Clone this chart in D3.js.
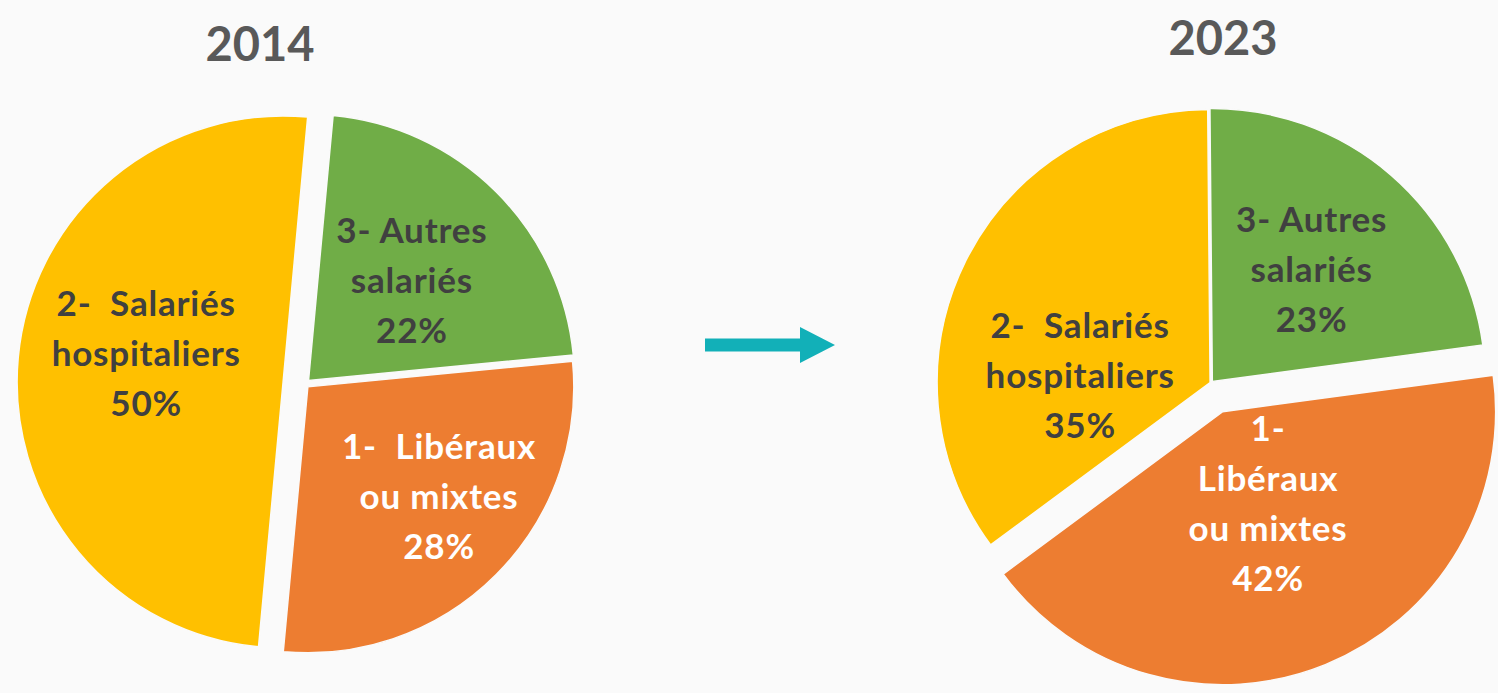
<!DOCTYPE html>
<html>
<head>
<meta charset="utf-8">
<script src="https://cdn.jsdelivr.net/npm/d3@7"></script>
<style>
  html, body { margin: 0; padding: 0; background: #fafafa; }
  svg { display: block; font-family: Lato, "Open Sans", sans-serif; }
</style>
</head>
<body>
<div id="chart"></div>
<script>
// data
const categories = ["1- Libéraux ou mixtes", "2- Salariés hospitaliers", "3- Autres salariés"];
const values2014 = [28, 50, 22];
const values2023 = [42, 35, 23];
const years = ["2014", "2023"];
const labels2014 = [["1-  Libéraux", "ou mixtes"], ["2-  Salariés", "hospitaliers"], ["3- Autres", "salariés"]];
const labels2023 = [["1-", "Libéraux", "ou mixtes"], ["2-  Salariés", "hospitaliers"], ["3- Autres", "salariés"]];

// clockwise from the top: Autres, Libéraux, Salariés
const drawOrder = [2, 0, 1];
const colors = ["#ED7D31", "#FFC000", "#70AD47"];
const textColors = ["#ffffff", "#404040", "#404040"];

const width = 1498;
const height = 693;
const deg = Math.PI / 180;

const svg = d3.select("#chart")
  .append("svg")
  .attr("width", width)
  .attr("height", height);

svg.append("rect")
  .attr("width", width)
  .attr("height", height)
  .attr("fill", "#fafafa");

// layout per pie: centre, radius, first slice angle, explosion (px), label placement [radius fraction, angle nudge]
const pies = [
  {
    year: years[0], values: values2014, labels: labels2014,
    cx: 305, cy: 384, r: 266, start: 5.3,
    titleX: 260, titleY: 61,
    explode: [4, 22, 5],
    labelPos: [[0.644, -4.9], [0.526, 6.5], [0.542, 0.9]]
  },
  {
    year: years[1], values: values2023, labels: labels2023,
    cx: 1211, cy: 383, r: 273, start: -0.5,
    titleX: 1223, titleY: 55,
    explode: [31, 1, 2],
    labelPos: [[0.375, -4.2], [0.477, -23.2], [0.549, 0.6]]
  }
];

const fontSize = 35;
const lineH = 50;
const cap = fontSize * 0.717;

function polar(a, d) {
  return [Math.sin(a) * d, -Math.cos(a) * d];
}

pies.forEach(p => {
  const items = drawOrder.map(i => ({ i, value: p.values[i] }));

  const pie = d3.pie()
    .sort(null)
    .value(d => d.value)
    .startAngle(p.start * deg)
    .endAngle(p.start * deg + 2 * Math.PI);

  const arc = d3.arc().innerRadius(0).outerRadius(p.r);
  const arcs = pie(items);

  const g = svg.append("g")
    .attr("transform", `translate(${p.cx},${p.cy})`);

  const slice = g.selectAll("g.slice")
    .data(arcs)
    .enter()
    .append("g")
    .attr("class", "slice")
    .attr("transform", d => {
      const mid = (d.startAngle + d.endAngle) / 2;
      const [dx, dy] = polar(mid, p.explode[d.data.i]);
      return `translate(${dx},${dy})`;
    });

  slice.append("path")
    .attr("d", arc)
    .attr("fill", d => colors[d.data.i])
    .attr("stroke", "#fafafa")
    .attr("stroke-width", 1.5);

  slice.each(function(d) {
    const mid = (d.startAngle + d.endAngle) / 2;
    const [rf, nudge] = p.labelPos[d.data.i];
    const [lx, ly] = polar(mid + nudge * deg, rf * p.r);
    const lines = p.labels[d.data.i].concat([d.data.value + "%"]);
    const firstBase = ly - lineH * (lines.length - 1) / 2 + cap / 2;

    const text = d3.select(this).append("text")
      .attr("text-anchor", "middle")
      .attr("font-size", fontSize)
      .attr("font-weight", 700)
      .attr("letter-spacing", 0.8)
      .attr("fill", textColors[d.data.i])
      .style("white-space", "pre");

    text.selectAll("tspan")
      .data(lines)
      .enter()
      .append("tspan")
      .attr("x", lx)
      .attr("y", (t, k) => firstBase + k * lineH)
      .text(t => t);
  });

  svg.append("text")
    .attr("x", p.titleX)
    .attr("y", p.titleY)
    .attr("text-anchor", "middle")
    .attr("font-size", 47)
    .attr("font-weight", 700)
    .attr("fill", "#595959")
    .text(p.year);
});

// arrow between the two pies
const ax = 705, ay = 345;
svg.append("path")
  .attr("d", `M${ax},${ay - 6.5} H${ax + 95} V${ay - 18} L${ax + 130},${ay} L${ax + 95},${ay + 18} V${ay + 6.5} H${ax} Z`)
  .attr("fill", "#12B0B8");
</script>
</body>
</html>
